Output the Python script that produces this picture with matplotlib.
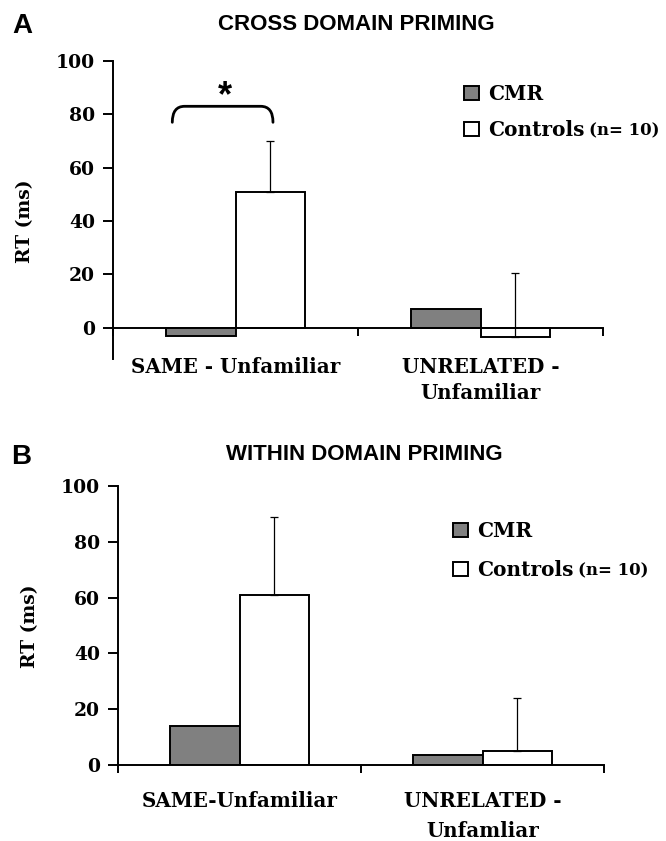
import matplotlib.pyplot as plt
import numpy as np
from matplotlib.patches import Patch, PathPatch
from matplotlib.path import Path

# data (RT priming, ms)
categories_a = ['SAME - Unfamiliar', 'UNRELATED -\nUnfamiliar']
cmr_a = [-3, 7]
controls_a = [51, -3.5]
controls_err_a = [19, 24]

categories_b = ['SAME-Unfamiliar', 'UNRELATED -\nUnfamliar']
cmr_b = [14, 3.5]
controls_b = [61, 5]
controls_err_b = [28, 19]

y_ticks = [0, 20, 40, 60, 80, 100]

SERIF = 'DejaVu Serif'
SANS = 'Liberation Sans'
plt.rcParams['font.family'] = SERIF
plt.rcParams['font.weight'] = 'bold'

fig = plt.figure(figsize=(6.66, 8.41), dpi=100)
W, H = 666, 841


def px_axes(x0, x1, ytop, ybot):
    return fig.add_axes([x0 / W, 1 - ybot / H, (x1 - x0) / W, (ybot - ytop) / H])


def draw_panel(ax, cats, cmr, ctrl, err, ymin, label_pad, spacing):
    x = np.arange(len(cats)) + 0.5
    w = 0.285
    ax.bar(x - w / 2, cmr, w, color='#808080', edgecolor='black', linewidth=1.4, zorder=2)
    ax.bar(x + w / 2, ctrl, w, color='white', edgecolor='black', linewidth=1.4, zorder=2)
    ax.errorbar(x + w / 2, ctrl, yerr=[np.zeros(len(err)), err], fmt='none',
                ecolor='black', elinewidth=0.9, capsize=3, capthick=0.9, zorder=3)
    ax.set_xlim(0, len(cats))
    ax.set_ylim(ymin, 100)
    ax.spines['top'].set_visible(False)
    ax.spines['right'].set_visible(False)
    ax.spines['left'].set_linewidth(1.4)
    ax.spines['bottom'].set_linewidth(1.4)
    ax.spines['bottom'].set_position(('data', 0))
    ax.set_yticks(y_ticks)
    ax.tick_params(axis='y', direction='out', length=7, width=1.4, pad=6, labelsize=13.5)
    ax.set_xticks([0, 1, 2])
    ax.set_xticklabels([])
    ax.tick_params(axis='x', which='major', direction='out', length=6, width=1.4)
    ax.set_xticks(x, minor=True)
    ax.set_xticklabels(cats, minor=True, fontsize=14.3, linespacing=spacing)
    ax.tick_params(axis='x', which='minor', length=0, pad=label_pad)
    for t in ax.get_yticklabels():
        t.set_fontweight('bold')
    for t in ax.get_xticklabels(minor=True):
        t.set_fontweight('bold')


ax_a = px_axes(113, 603, 61, 359.5)
draw_panel(ax_a, categories_a, cmr_a, controls_a, controls_err_a, -12, 21, 1.4)
ax_b = px_axes(118, 604, 486, 765)
draw_panel(ax_b, categories_b, cmr_b, controls_b, controls_err_b, 0, 19, 1.6)

# significance bracket in panel A
x0, x1, yb, yt, d = 0.242, 0.653, 77.0, 83.0, 0.05
verts = [(x0, yb), (x0, yt), (x0 + d, yt), (x1 - d, yt), (x1, yt), (x1, yb)]
codes = [Path.MOVETO, Path.CURVE3, Path.CURVE3, Path.LINETO, Path.CURVE3, Path.CURVE3]
ax_a.add_patch(PathPatch(Path(verts, codes), fill=False, lw=2.0, edgecolor='black',
                         capstyle='round', zorder=4))
ax_a.text(0.458, 86.5, '*', ha='center', va='center', fontsize=26, fontfamily=SANS,
          fontweight='bold')

# y labels
for yc, xc in [(221, 25), (626, 30)]:
    fig.text(xc / W, 1 - yc / H, 'RT (ms)', rotation=90, ha='center', va='center',
             fontsize=13.5, fontweight='bold', fontfamily=SERIF)

# titles and panel letters
fig.text(356 / W, 1 - 25 / H, 'CROSS DOMAIN PRIMING', ha='center', va='center',
         fontsize=16, fontweight='bold', fontfamily=SANS)
fig.text(364 / W, 1 - 455 / H, 'WITHIN DOMAIN PRIMING', ha='center', va='center',
         fontsize=16, fontweight='bold', fontfamily=SANS)
fig.text(12 / W, 1 - 26 / H, 'A', ha='left', va='center', fontsize=20,
         fontweight='bold', fontfamily=SANS)
fig.text(11 / W, 1 - 457 / H, 'B', ha='left', va='center', fontsize=20,
         fontweight='bold', fontfamily=SANS)

# legends
handles = [Patch(facecolor='#808080', edgecolor='black', linewidth=1.4),
           Patch(facecolor='white', edgecolor='black', linewidth=1.4)]
legends = []
for ax, (lx, ly), sp in [(ax_a, (464, 84), 0.8), (ax_b, (453, 521), 0.95)]:
    leg = ax.legend(handles, ['CMR', 'Controls'], loc='upper left',
                    bbox_to_anchor=(lx / W, 1 - ly / H), bbox_transform=fig.transFigure,
                    frameon=False, borderpad=0, borderaxespad=0, handlelength=0.75,
                    handleheight=0.75, handletextpad=0.45, labelspacing=sp,
                    prop={'family': SERIF, 'weight': 'bold', 'size': 14.5})
    legends.append(leg)

fig.canvas.draw()
renderer = fig.canvas.get_renderer()
for leg in legends:
    bb = leg.get_texts()[1].get_window_extent(renderer)
    fig.text((bb.x1 + 4) / W, (bb.y0 + 1) / H, '(n= 10)', ha='left', va='bottom',
             fontsize=12, fontweight='bold', fontfamily=SERIF)

fig.savefig('out.png', dpi=100)
